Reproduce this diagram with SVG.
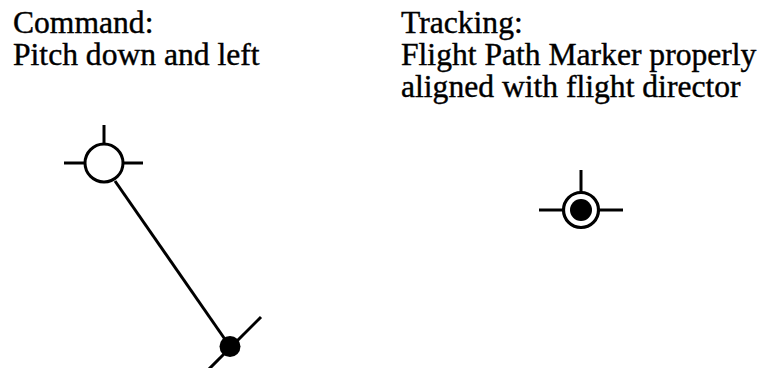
<svg xmlns="http://www.w3.org/2000/svg" width="762" height="368" viewBox="0 0 762 368">
<style>
text{font-family:"Liberation Serif","Times New Roman",serif;font-size:31.6px;fill:#000;stroke:#000;stroke-width:0.4}
.s{stroke:#000;stroke-width:3;fill:none}
.w{stroke:#000;stroke-width:3;fill:#fff}
.f{fill:#000;stroke:none}
</style>
<rect width="762" height="368" fill="#fff"/>
<g id="label-command">
<text x="13" y="33">Command:</text>
<text x="13" y="65">Pitch down and left</text>
</g>
<g id="label-tracking">
<text x="401" y="33">Tracking:</text>
<text x="401" y="65">Flight Path Marker properly</text>
<text x="401" y="97">aligned with flight director</text>
</g>
<g id="connectors">
<line class="s" x1="115" y1="181" x2="230" y2="346.5"/>
</g>
<g id="fpm-command">
<line class="s" x1="104" y1="125" x2="104" y2="144"/>
<line class="s" x1="64" y1="163" x2="85" y2="163"/>
<line class="s" x1="123" y1="163" x2="143" y2="163"/>
<circle class="w" cx="104" cy="163" r="19"/>
</g>
<g id="fd-command">
<line class="s" x1="261" y1="317" x2="208" y2="370"/>
<circle class="f" cx="230" cy="346.5" r="10.5"/>
</g>
<g id="fpm-tracking">
<line class="s" x1="581" y1="170" x2="581" y2="193"/>
<line class="s" x1="539" y1="210" x2="563" y2="210"/>
<line class="s" x1="599" y1="210" x2="623" y2="210"/>
<circle cx="581" cy="210" r="17.5" fill="#fff" stroke="#000" stroke-width="3.2"/>
<circle class="f" cx="581" cy="210" r="11"/>
</g>
</svg>
